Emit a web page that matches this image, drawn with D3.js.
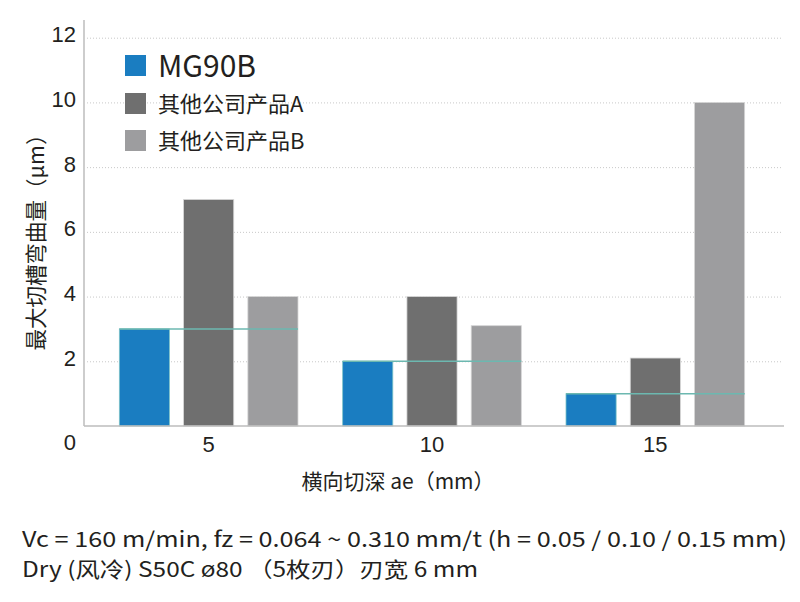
<!DOCTYPE html>
<html>
<head>
<meta charset="utf-8">
<script src="https://cdn.jsdelivr.net/npm/d3@7"></script>
<style>
  body { margin: 0; background: #fff; }
  svg { display: block; font-family: "Noto Sans CJK SC", "Noto Sans", sans-serif; }
</style>
</head>
<body>
<div id="wrapper"></div>
<script>
// data
const categories = ["5", "10", "15"]
const seriesNames = ["MG90B", "其他公司产品A", "其他公司产品B"]
const seriesColors = ["#1a7dc1", "#6f6f6f", "#9d9d9f"]
const mg90b = [3, 2, 1]
const productA = [7, 4, 2.1]
const productB = [4, 3.1, 10]
const yTicks = [0, 2, 4, 6, 8, 10, 12]
const footnotes = [
  "Vc = 160 m/min, fz = 0.064 ~ 0.310 mm/t (h = 0.05 / 0.10 / 0.15 mm)",
  "Dry (风冷)  S50C  ø80 （5枚刃）刃宽 6 mm",
]

const seriesValues = [mg90b, productA, productB]
const dataset = categories.map((c, i) => ({
  cat: c,
  values: seriesNames.map((s, j) => ({ series: s, idx: j, value: seriesValues[j][i] })),
}))

const dimensions = {
  width: 800,
  height: 602,
  margin: { top: 20, right: 16, bottom: 176, left: 84 },
}
dimensions.boundedWidth = dimensions.width - dimensions.margin.left - dimensions.margin.right
dimensions.boundedHeight = dimensions.height - dimensions.margin.top - dimensions.margin.bottom

const svg = d3.select("#wrapper")
  .append("svg")
  .attr("width", dimensions.width)
  .attr("height", dimensions.height)

const bounds = svg.append("g")
  .attr("transform", `translate(${dimensions.margin.left},${dimensions.margin.top})`)

// scales
const yScale = d3.scaleLinear()
  .domain([0, 12])
  .range([dimensions.boundedHeight, 17.7])

const x0 = d3.scaleBand()
  .domain(categories)
  .range([13, 683])
  .paddingInner(0.2)
  .paddingOuter(0.1)

const x1 = d3.scaleBand()
  .domain(seriesNames)
  .range([0, x0.bandwidth()])
  .paddingInner(0.22)

// grid
const yGrid = bounds.append("g")
  .call(d3.axisLeft(yScale).tickValues(yTicks.filter(d => d > 0)).tickSize(-(dimensions.boundedWidth - 4)).tickFormat(""))
  .attr("transform", "translate(3,0)")
yGrid.select(".domain").remove()
yGrid.selectAll(".tick line")
  .attr("stroke", "#c8c8c8")
  .attr("stroke-dasharray", "1,2")

// bars
const groups = bounds.selectAll(".group")
  .data(dataset)
  .join("g")
  .attr("class", "group")
  .attr("transform", d => `translate(${x0(d.cat)},0)`)

groups.selectAll("rect")
  .data(d => d.values)
  .join("rect")
  .attr("x", d => x1(d.series))
  .attr("y", d => yScale(d.value))
  .attr("width", x1.bandwidth())
  .attr("height", d => yScale(0) - yScale(d.value))
  .attr("fill", d => seriesColors[d.idx])
  .attr("stroke", d => d.idx === 0 ? "#7cc3c8" : "#d6d6d6")
  .attr("stroke-width", 0.8)

// teal reference line at MG90B level
groups.append("line")
  .attr("x1", x1(seriesNames[0]))
  .attr("x2", x1(seriesNames[2]) + x1.bandwidth())
  .attr("y1", d => yScale(d.values[0].value))
  .attr("y2", d => yScale(d.values[0].value))
  .attr("stroke", "#6cb8b0")
  .attr("stroke-width", 1.5)

// axes lines
bounds.append("line")
  .attr("x1", 0).attr("x2", 0)
  .attr("y1", 0).attr("y2", dimensions.boundedHeight)
  .attr("stroke", "#bdbdbd").attr("stroke-width", 1.5)
bounds.append("line")
  .attr("x1", 0).attr("x2", dimensions.boundedWidth)
  .attr("y1", dimensions.boundedHeight).attr("y2", dimensions.boundedHeight)
  .attr("stroke", "#bdbdbd").attr("stroke-width", 1.5)

// y axis labels
const yAxis = bounds.append("g")
  .call(d3.axisLeft(yScale).tickValues(yTicks).tickSize(0).tickPadding(8))
yAxis.select(".domain").remove()
yAxis.selectAll("text")
  .attr("fill", "#231f20")
  .style("font-size", "22px")
  .attr("dy", d => d === 0 ? "1.05em" : "0.18em")

// x axis labels
const xAxis = bounds.append("g")
  .attr("transform", `translate(0,${dimensions.boundedHeight})`)
  .call(d3.axisBottom(x0).tickSize(0).tickPadding(0))
xAxis.select(".domain").remove()
xAxis.selectAll("text")
  .attr("fill", "#231f20")
  .style("font-size", "22px")
  .attr("y", 26)
  .attr("dy", 0)

// axis titles
svg.append("text")
  .attr("transform", `translate(44,237) rotate(-90)`)
  .attr("text-anchor", "middle")
  .attr("fill", "#231f20")
  .style("font-size", "21.5px")
  .text("最大切槽弯曲量（μm）")

svg.append("text")
  .attr("x", 398)
  .attr("y", 489)
  .attr("text-anchor", "middle")
  .attr("fill", "#231f20")
  .style("font-size", "21px")
  .text("横向切深 ae（mm）")

// legend
const legendRows = [
  { y: 55, size: 30, textY: 77 },
  { y: 93, size: 22, textY: 112 },
  { y: 130, size: 22, textY: 149 },
]
const legend = svg.append("g")
  .selectAll("g")
  .data(seriesNames)
  .join("g")
  .attr("transform", (d, i) => `translate(125,${legendRows[i].y})`)
legend.append("rect")
  .attr("width", 21).attr("height", 21)
  .attr("fill", (d, i) => seriesColors[i])
legend.append("text")
  .attr("x", 33)
  .attr("y", (d, i) => legendRows[i].textY - legendRows[i].y)
  .attr("fill", "#231f20")
  .style("font-size", (d, i) => `${legendRows[i].size}px`)
  .text(d => d)

// footnotes
const footLength = [765, 456]
svg.append("g")
  .selectAll("text")
  .data(footnotes)
  .join("text")
  .attr("x", 22)
  .attr("y", (d, i) => 547 + i * 30)
  .attr("fill", "#231f20")
  .style("font-size", "21px")
  .attr("textLength", (d, i) => footLength[i])
  .attr("lengthAdjust", "spacingAndGlyphs")
  .text(d => d)
</script>
</body>
</html>
